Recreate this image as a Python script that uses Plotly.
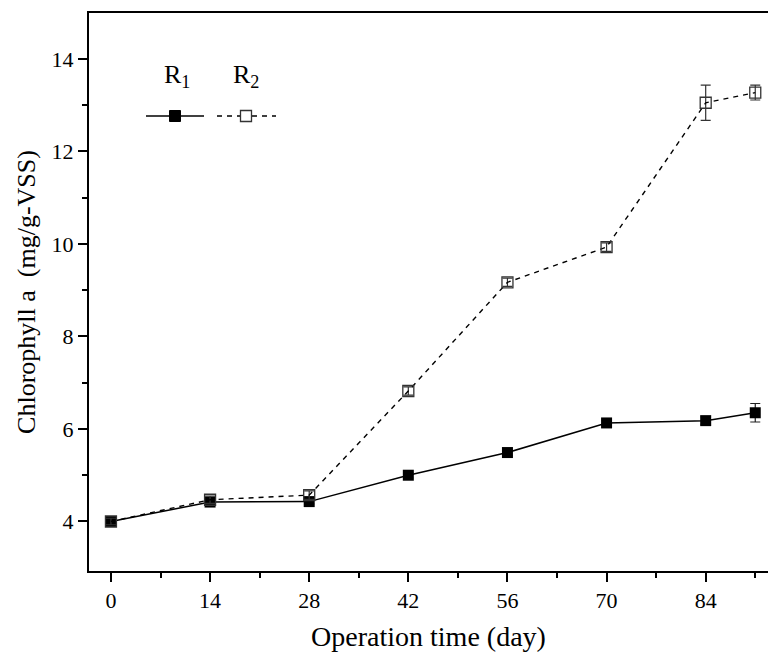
import plotly.graph_objects as go

days = [0, 14, 28, 42, 56, 70, 84, 91]
r1_values = [4.00, 4.42, 4.43, 5.00, 5.49, 6.13, 6.18, 6.35]
r1_errors = [0.04, 0.05, 0.05, 0.06, 0.06, 0.06, 0.08, 0.20]
r2_values = [4.00, 4.47, 4.57, 6.82, 9.17, 9.93, 13.05, 13.27]
r2_errors = [0.07, 0.08, 0.09, 0.09, 0.09, 0.09, 0.38, 0.16]
x_ticks = [0, 14, 28, 42, 56, 70, 84]
y_ticks = [4, 6, 8, 10, 12, 14]

FONT = "Liberation Serif, Times New Roman, serif"

fig = go.Figure()

fig.add_trace(go.Scatter(
    x=days, y=r1_values, mode="lines+markers", name="R1",
    line=dict(color="black", width=1.5),
    marker=dict(symbol="square", size=11, color="black"),
    error_y=dict(type="data", array=r1_errors, visible=True,
                 color="#222", thickness=1.2, width=5),
))
fig.add_trace(go.Scatter(
    x=days, y=r2_values, mode="lines+markers", name="R2",
    line=dict(color="black", width=1.4, dash="5px,5px"),
    marker=dict(symbol="square-open", size=11, color="#333",
                line=dict(width=1.3, color="#333")),
    error_y=dict(type="data", array=r2_errors, visible=True,
                 color="#333", thickness=1.2, width=5),
))

fig.update_layout(
    width=768, height=657,
    margin=dict(l=89, r=0, t=13, b=86),
    paper_bgcolor="white", plot_bgcolor="white",
    showlegend=False,
    font=dict(family=FONT, size=22, color="black"),
)

fig.update_xaxes(
    range=[-3.1, 92.8],
    tickmode="array", tickvals=x_ticks, ticktext=[str(v) for v in x_ticks],
    ticks="outside", ticklen=9, tickwidth=2, tickcolor="black",
    showline=True, linewidth=2, linecolor="black", mirror=True,
    showgrid=False, zeroline=False,
    minor=dict(tickmode="array", tickvals=[7, 21, 35, 49, 63, 77, 91],
               ticks="outside", ticklen=5, tickwidth=2, tickcolor="black", showgrid=False),
    tickfont=dict(family=FONT, size=22),
    title=dict(text="Operation time (day)", font=dict(family=FONT, size=28), standoff=14),
)
fig.update_yaxes(
    range=[2.93, 14.99],
    tickmode="array", tickvals=y_ticks, ticktext=[str(v) for v in y_ticks],
    ticks="outside", ticklen=9, tickwidth=2, tickcolor="black",
    showline=True, linewidth=2, linecolor="black", mirror=False,
    showgrid=False, zeroline=False,
    minor=dict(tickmode="array", tickvals=[5, 7, 9, 11, 13],
               ticks="outside", ticklen=5, tickwidth=2, tickcolor="black", showgrid=False),
    tickfont=dict(family=FONT, size=22),
    title=dict(text="Chlorophyll a\u00a0\u00a0(mg/g-VSS)", font=dict(family=FONT, size=26), standoff=8),
)

# Custom legend (text above sample line), in pixel-derived paper coordinates
W, H = 768 - 89, 657 - 13 - 86
def px(x):
    return (x - 89) / W
def py(y):
    return 1 - (y - 13) / H

fig.add_annotation(x=px(177), y=py(76), xref="paper", yref="paper",
                   text="R<sub>1</sub>", showarrow=False,
                   font=dict(family=FONT, size=26), xanchor="center", yanchor="middle")
fig.add_annotation(x=px(246), y=py(76), xref="paper", yref="paper",
                   text="R<sub>2</sub>", showarrow=False,
                   font=dict(family=FONT, size=26), xanchor="center", yanchor="middle")
fig.add_shape(type="line", xref="paper", yref="paper",
              x0=px(146), x1=px(204), y0=py(116), y1=py(116),
              line=dict(color="black", width=1.5))
fig.add_shape(type="rect", xref="paper", yref="paper",
              x0=px(169.5), x1=px(180.5), y0=py(110.5), y1=py(121.5),
              fillcolor="black", line=dict(color="black", width=1))
fig.add_shape(type="line", xref="paper", yref="paper",
              x0=px(217), x1=px(240), y0=py(116), y1=py(116),
              line=dict(color="black", width=1.4, dash="5px,5px"))
fig.add_shape(type="line", xref="paper", yref="paper",
              x0=px(252), x1=px(276), y0=py(116), y1=py(116),
              line=dict(color="black", width=1.4, dash="5px,5px"))
fig.add_shape(type="rect", xref="paper", yref="paper",
              x0=px(240.5), x1=px(251.5), y0=py(110.5), y1=py(121.5),
              fillcolor="white", line=dict(color="#333", width=1.3))

fig.write_html("out.html")
